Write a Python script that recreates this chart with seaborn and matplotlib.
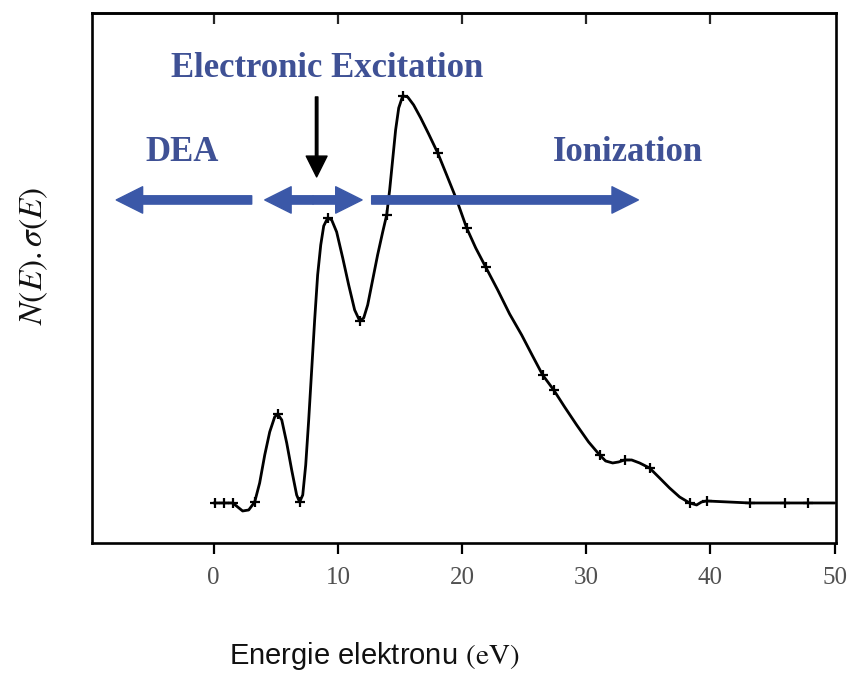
import matplotlib
matplotlib.use("Agg")
import matplotlib.pyplot as plt
import seaborn as sns
import pandas as pd

# Electron energy (eV) and relative yield N(E).sigma(E) in arbitrary units
energy = [0.0, 0.81, 1.53, 1.93, 2.33, 2.82, 3.30, 3.70, 4.11, 4.51, 4.91, 5.15,
          5.48, 5.88, 6.28, 6.68, 6.92, 7.17, 7.41, 7.65, 7.89, 8.13, 8.37, 8.62,
          8.86, 9.18, 9.50, 9.90, 10.39, 10.87, 11.35, 11.76, 12.08, 12.40, 12.80,
          13.20, 13.61, 13.93, 14.17, 14.41, 14.65, 14.90, 15.22, 15.62, 16.10,
          16.67, 17.31, 18.04, 18.76, 19.57, 20.37, 21.10, 21.90, 22.87, 23.83,
          24.80, 25.68, 26.49, 27.38, 28.26, 29.23, 30.19, 31.08, 31.56, 32.13,
          32.61, 33.09, 33.66, 34.30, 35.10, 35.91, 36.71, 37.52, 38.33, 38.89,
          39.29, 39.69, 43.16, 45.97, 47.83, 50.0]
yield_au = [40, 40, 40, 36, 32, 33, 41, 60, 88, 111, 126, 129,
            123, 100, 73, 48, 41, 48, 78, 123, 173, 223, 268, 298,
            317, 325, 323, 311, 285, 258, 233, 222, 225, 238, 263,
            288, 311, 328, 353, 383, 413, 435, 447, 446, 438,
            425, 409, 390, 368, 343, 315, 295, 276, 253, 229,
            208, 187, 168, 153, 136, 118, 101, 88, 82, 80,
            81, 83, 83, 80, 75, 65, 55, 46, 40, 38,
            41, 42, 40, 40, 40, 40]

# Measured points shown with '+' symbols
meas_energy = [0.1, 0.81, 1.53, 3.30, 5.15, 6.92, 9.18, 11.76, 13.93, 15.22,
               18.04, 20.37, 21.90, 26.49, 27.38, 31.08, 33.09, 35.10, 38.33,
               39.69, 43.16, 45.97, 47.83]
meas_yield = [40, 40, 40, 41, 129, 41, 325, 222, 328, 447,
              390, 315, 276, 168, 153, 88, 83, 75, 40,
              42, 40, 40, 40]

x_ticks = [0, 10, 20, 30, 40, 50]
x_tick_labels = ["0", "10", "20", "30", "40", "50"]

curve = pd.DataFrame({"E": energy, "Y": yield_au})
points = pd.DataFrame({"E": meas_energy, "Y": meas_yield})

sns.set_theme(style="white")
plt.rcParams["mathtext.fontset"] = "stix"

fig = plt.figure(figsize=(8.52, 6.8), dpi=100)
ax = fig.add_axes([0.108, 0.2015, 0.873, 0.7795])

sns.lineplot(data=curve, x="E", y="Y", ax=ax, color="black", linewidth=2.0,
             sort=False, estimator=None)
sns.scatterplot(data=points, x="E", y="Y", ax=ax, marker="+", color="black",
                s=55, linewidth=1.6, zorder=3)

ax.set_xlim(-9.8, 50.1)
ax.set_ylim(0, 530)

for side in ["left", "right", "top", "bottom"]:
    ax.spines[side].set_visible(True)
    ax.spines[side].set_color("black")
    ax.spines[side].set_linewidth(1.9)

ax.set_xticks(x_ticks)
ax.set_xticklabels(x_tick_labels, family="Liberation Serif", fontsize=18,
                   color="#505050")
ax.tick_params(axis="x", direction="out", length=8, width=1.6, color="black",
               pad=9, bottom=True)
ax.set_yticks([])

top = ax.secondary_xaxis("top")
top.set_xticks(x_ticks[:-1])
top.tick_params(direction="in", length=8, width=1.6, labeltop=False)
top.spines["top"].set_linewidth(1.9)

ax.set_xlabel("Energie elektronu $\\mathrm{(eV)}$", family="Liberation Sans",
              fontsize=21, color="#111111")
ax.xaxis.set_label_coords(0.379, -0.183)
ax.set_ylabel("$N(E).\\sigma(E)$", fontsize=24, color="#111111")
ax.yaxis.set_label_coords(-0.056, 0.541)

blue = "#3b58a8"
text_blue = "#3f5195"
simple = "simple,head_length=0.95,head_width=0.95,tail_width=0.3"


def band_arrow(x0, x1, y):
    ax.annotate("", xy=(x1, y), xytext=(x0, y),
                arrowprops=dict(arrowstyle=simple, mutation_scale=20,
                                color=blue, shrinkA=0, shrinkB=0))


# Energy ranges of the three processes
band_arrow(3.06, -7.85, 343)
band_arrow(8.0, 4.11, 343)
band_arrow(8.0, 11.95, 343)
band_arrow(12.72, 34.2, 343)

ax.annotate("", xy=(8.29, 366), xytext=(8.29, 446),
            arrowprops=dict(arrowstyle="simple,head_length=0.75,head_width=0.75,tail_width=0.09",
                            mutation_scale=20, color="black", shrinkA=0, shrinkB=0))

label_kw = dict(ha="center", va="center", fontsize=25, fontweight="bold",
                family="Liberation Serif", color=text_blue)
ax.text(9.10, 474, "Electronic Excitation", **label_kw)
ax.text(-2.58, 390, "DEA", **label_kw)
ax.text(33.33, 390, "Ionization", **label_kw)

fig.savefig("out.png", dpi=100, facecolor="white")
